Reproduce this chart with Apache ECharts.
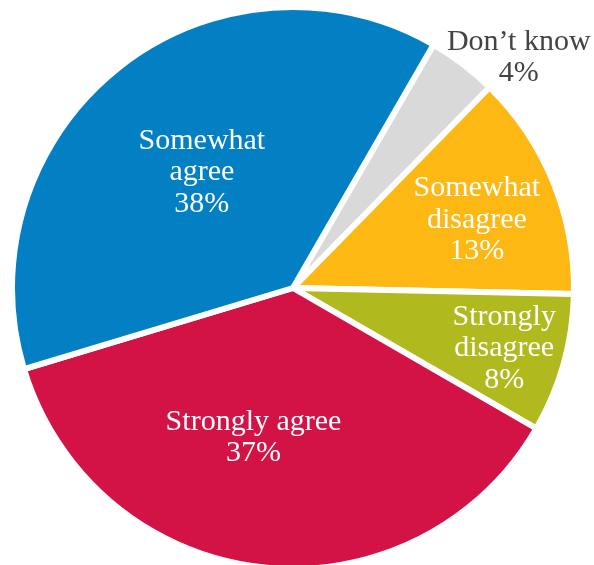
<!DOCTYPE html>
<html>
<head>
<meta charset="utf-8">
<script src="https://cdn.jsdelivr.net/npm/echarts@6/dist/echarts.min.js"></script>
<style>html,body{margin:0;padding:0;background:#fff;}#c{width:594px;height:565px;}</style>
</head>
<body>
<div id="c"></div>
<script>
const categories = ["Don\u2019t know", "Somewhat\ndisagree", "Strongly\ndisagree", "Strongly agree", "Somewhat\nagree"];
const values = [4, 13, 8, 37, 38];
const colors = ["#D9D9D9", "#FDB813", "#B0BA1F", "#D31245", "#0380C4"];
const labelColors = ["#444444", "#ffffff", "#ffffff", "#ffffff", "#ffffff"];
const labelOffsets = [[139, -116], [51, -14], [73, 22], [-23, 7], [-2, -3]];

const chart = echarts.init(document.getElementById('c'));
chart.setOption({
  animation: false,
  series: [{
    type: 'pie',
    center: [293, 288],
    radius: 281,
    startAngle: 60,
    clockwise: true,
    avoidLabelOverlap: false,
    itemStyle: { borderColor: '#ffffff', borderWidth: 6 },
    label: {
      show: true,
      position: 'inside',
      fontFamily: 'Liberation Serif',
      fontSize: 30,
      lineHeight: 31.5,
      align: 'center',
      formatter: p => p.name + '\n' + p.value + '%'
    },
    labelLine: { show: false },
    emphasis: { disabled: true },
    data: categories.map((c, i) => ({
      name: c,
      value: values[i],
      itemStyle: { color: colors[i] },
      label: { color: labelColors[i], offset: labelOffsets[i] }
    }))
  }]
});
</script>
</body>
</html>
